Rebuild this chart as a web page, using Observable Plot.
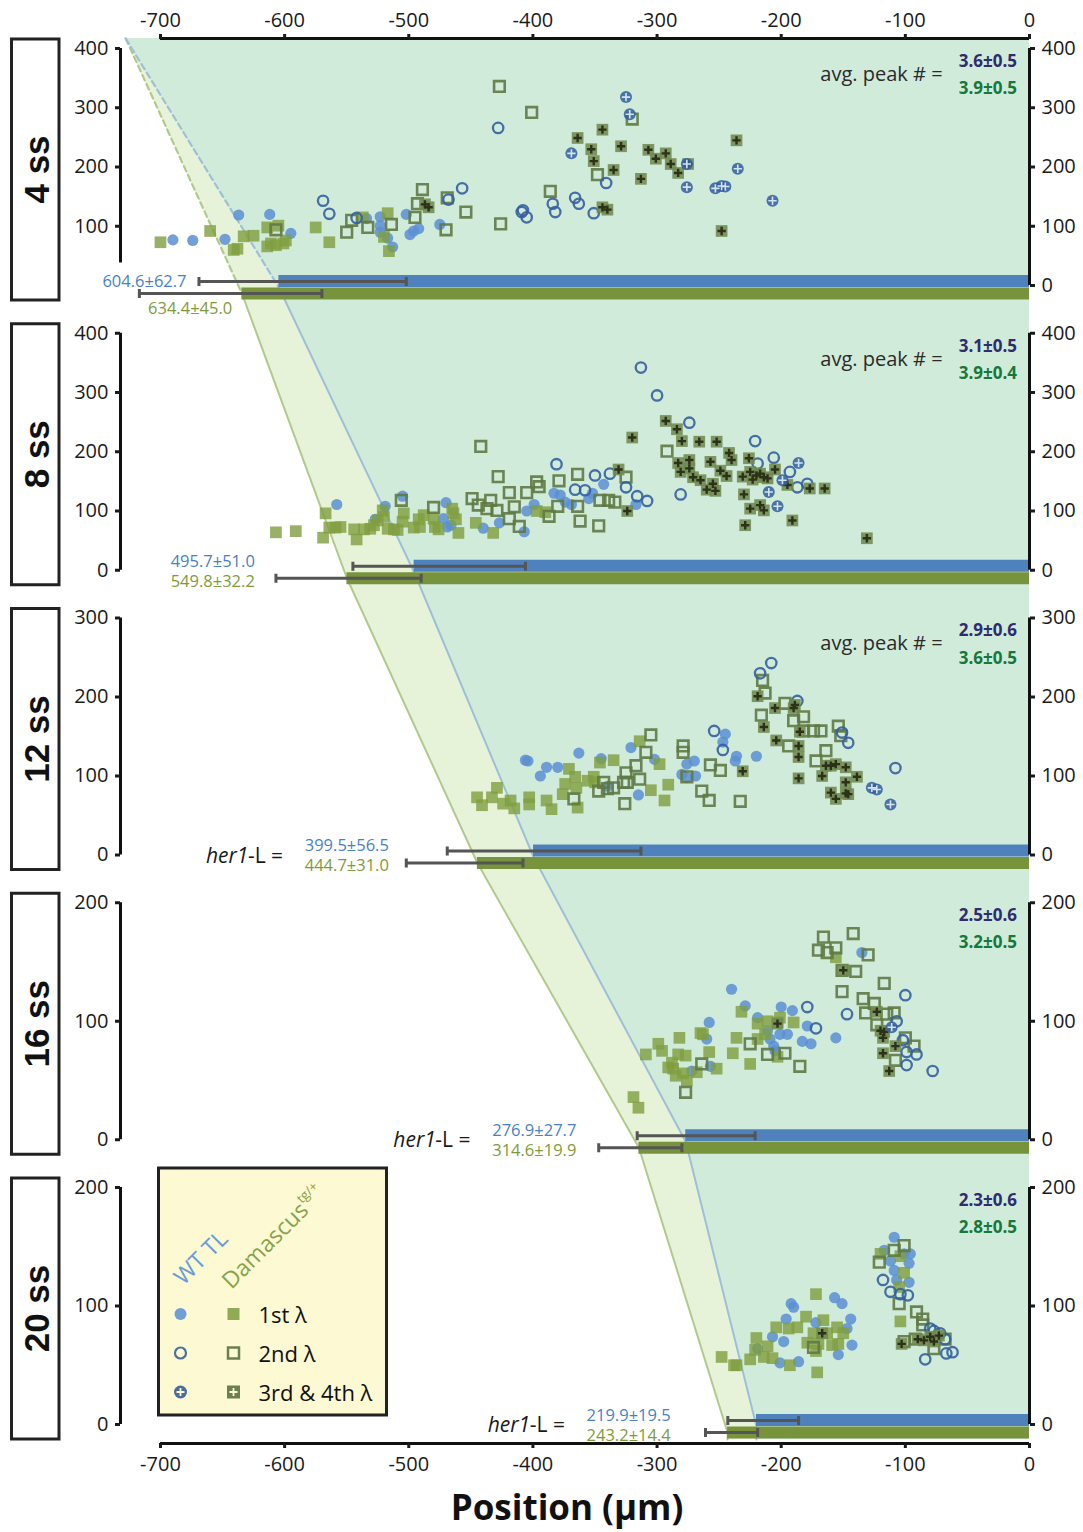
<!DOCTYPE html>
<html><head><meta charset="utf-8">
<script src="https://cdn.jsdelivr.net/npm/d3@7"></script>
<script src="https://cdn.jsdelivr.net/npm/@observablehq/plot@0.6"></script>
<style>
body{margin:0;background:#fff;}
#wrap{position:relative;width:1083px;height:1532px;font-family:"Open Sans",sans-serif;}
#wrap svg{overflow:visible;}
</style></head><body><div id="wrap"></div>
<script>
// ---------- DATA ----------
const panels = ["4 ss","8 ss","12 ss","16 ss","20 ss"];
const yMax = [400,400,300,200,200];
const yTicks = [[0,100,200,300,400],[0,100,200,300,400],[0,100,200,300],[0,100,200],[0,100,200]];
const xTicks = [-700,-600,-500,-400,-300,-200,-100,0];
const wtMean = [604.6,495.7,399.5,276.9,219.9];
const wtSD = [62.7,51.0,56.5,27.7,19.5];
const damMean = [634.4,549.8,444.7,314.6,243.2];
const damSD = [45.0,32.2,31.0,19.9,14.4];
const wtErrLo = [-669,-545,-469,-316,-243];
const wtErrHi = [-502,-406,-313,-221,-186];
const damErrLo = [-717,-607,-502,-347,-261];
const damErrHi = [-570,-490,-408,-280,-219];
const wtPeaks = ["3.6±0.5","3.1±0.5","2.9±0.6","2.5±0.6","2.3±0.6"];
const damPeaks = ["3.9±0.5","3.9±0.4","3.6±0.5","3.2±0.5","2.8±0.5"];
const legendRows = ["1st λ","2nd λ","3rd & 4th λ"];
const apexX = -728;

// peaks: [position µm, intensity]
const wt1st_4ss = [[-690,77],[-674,76],[-648,78],[-637,119],[-612,120],[-595,88],[-534,113],[-523,116],[-523,101],[-523,90],[-517,80],[-513,65],[-502,120],[-499,86],[-496,92],[-492,96],[-475,103]];
const wt2nd_4ss = [[-569,143],[-564,121],[-542,114],[-468,145],[-457,164],[-428,266],[-409,124],[-405,115],[-408,127],[-384,138],[-382,124],[-366,148],[-363,138],[-351,122],[-341,173]];
const wt3rd_4ss = [[-325,318],[-322,289],[-369,223],[-276,205],[-276,166],[-253,164],[-248,168],[-245,167],[-235,197],[-207,143]];
const dam1st_4ss = [[-700,73],[-660,92],[-633,83],[-625,84],[-638,62],[-641,60],[-614,98],[-605,101],[-611,71],[-614,66],[-607,68],[-601,71],[-599,76],[-575,98],[-564,73],[-537,115],[-517,122],[-520,82],[-516,58]];
const dam2nd_4ss = [[-607,94],[-550,90],[-546,110],[-533,98],[-514,103],[-489,162],[-493,138],[-495,115],[-469,148],[-470,94],[-454,124],[-427,336],[-401,292],[-320,281],[-386,159],[-348,187],[-426,104]];
const dam3rd_4ss = [[-484,132],[-487,137],[-364,249],[-344,263],[-353,230],[-351,210],[-329,235],[-335,195],[-313,180],[-307,229],[-301,214],[-293,223],[-289,205],[-283,190],[-275,205],[-236,245],[-248,92],[-344,132],[-340,128]];

const wt1st_8ss = [[-558,111],[-519,108],[-505,125],[-527,86],[-470,114],[-472,87],[-469,73],[-466,76],[-440,71],[-427,80],[-407,65],[-405,100],[-399,111],[-383,130],[-378,127],[-374,115],[-369,111],[-355,121],[-352,130],[-343,145],[-317,111]];
const wt2nd_8ss = [[-381,179],[-366,136],[-358,135],[-350,160],[-338,163],[-325,140],[-316,125],[-308,117],[-313,342],[-300,295],[-274,249],[-221,218],[-281,128],[-206,190],[-193,166],[-187,140],[-179,146],[-219,180]];
const wt3rd_8ss = [[-186,181],[-210,132],[-203,108],[-199,152]];
const dam1st_8ss = [[-607,64],[-591,66],[-569,55],[-567,96],[-564,72],[-559,72],[-555,73],[-544,69],[-542,52],[-536,69],[-531,70],[-528,76],[-525,84],[-521,101],[-520,90],[-517,70],[-512,69],[-509,68],[-504,96],[-505,82],[-496,72],[-491,73],[-492,86],[-488,93],[-480,87],[-479,73],[-476,69],[-465,104],[-464,96],[-462,86],[-460,63],[-446,80],[-432,63],[-397,100],[-390,98]];
const dam2nd_8ss = [[-442,209],[-506,118],[-480,106],[-428,158],[-449,121],[-444,110],[-437,104],[-434,118],[-429,101],[-419,131],[-415,107],[-419,87],[-411,74],[-405,131],[-397,149],[-395,141],[-387,91],[-380,108],[-379,151],[-364,162],[-364,108],[-362,83],[-347,75],[-346,118],[-339,118],[-334,115],[-325,157],[-292,201]];
const dam3rd_8ss = [[-320,224],[-331,170],[-324,100],[-293,252],[-284,238],[-280,218],[-266,217],[-252,217],[-283,181],[-274,186],[-274,172],[-281,166],[-271,157],[-265,152],[-260,136],[-253,134],[-255,146],[-257,183],[-242,198],[-240,186],[-249,168],[-244,159],[-226,189],[-231,158],[-230,128],[-225,166],[-220,160],[-217,163],[-214,157],[-223,153],[-211,155],[-205,170],[-225,104],[-217,110],[-214,101],[-229,76],[-195,144],[-177,138],[-165,138],[-191,84],[-131,54]];

const wt1st_12ss = [[-406,120],[-404,119],[-394,100],[-389,111],[-380,111],[-363,129],[-345,122],[-340,87],[-321,136],[-315,76],[-302,121],[-280,102],[-276,115],[-270,119],[-276,98],[-269,100],[-245,153],[-247,143],[-236,125],[-237,119],[-220,125]];
const wt2nd_12ss = [[-208,243],[-217,230],[-254,157],[-247,133],[-187,195],[-151,155],[-146,142],[-108,110]];
const wt3rd_12ss = [[-127,85],[-123,83],[-112,64]];
const dam1st_12ss = [[-445,73],[-441,63],[-433,73],[-429,85],[-424,65],[-418,69],[-415,59],[-403,73],[-403,64],[-389,69],[-385,58],[-376,77],[-374,90],[-371,109],[-366,99],[-365,85],[-364,60],[-356,94],[-351,99],[-350,92],[-346,117],[-335,120],[-314,144],[-305,82],[-298,115],[-294,69],[-291,89]];
const dam2nd_12ss = [[-305,152],[-309,130],[-317,113],[-314,96],[-325,104],[-324,92],[-343,92],[-347,81],[-335,85],[-327,92],[-340,84],[-367,71],[-326,65],[-279,138],[-279,130],[-276,99],[-264,81],[-258,69],[-257,114],[-249,107],[-233,68],[-215,221],[-213,205],[-216,177],[-197,192],[-190,170],[-182,175],[-182,157],[-168,157],[-174,157],[-194,138],[-164,132],[-172,119],[-154,163],[-152,151]];
const dam3rd_12ss = [[-219,201],[-205,186],[-190,186],[-189,190],[-214,162],[-185,156],[-204,145],[-186,138],[-186,124],[-164,113],[-160,113],[-156,115],[-148,111],[-167,100],[-139,99],[-186,97],[-231,106],[-148,92],[-148,78],[-160,79],[-156,71],[-146,77]];

const wt1st_16ss = [[-240,127],[-229,113],[-219,103],[-258,99],[-260,85],[-272,58],[-257,62],[-200,112],[-191,109],[-211,92],[-209,85],[-206,79],[-205,75],[-201,89],[-195,89],[-179,96],[-183,83],[-176,81],[-156,86],[-135,158]];
const wt2nd_16ss = [[-179,112],[-172,94],[-147,106],[-100,122],[-107,100],[-102,84],[-99,74],[-91,72],[-99,63],[-78,58]];
const wt3rd_16ss = [[-111,95]];
const dam1st_16ss = [[-319,36],[-315,27],[-309,72],[-299,81],[-296,75],[-291,61],[-288,65],[-285,54],[-283,72],[-282,86],[-277,71],[-287,60],[-279,56],[-276,50],[-268,57],[-265,90],[-263,89],[-258,74],[-252,60],[-239,73],[-236,86],[-232,108],[-225,64],[-219,98],[-211,100],[-203,99],[-201,103],[-219,85],[-213,89],[-203,70],[-190,99],[-156,154]];
const dam2nd_16ss = [[-277,40],[-264,64],[-225,81],[-211,72],[-197,73],[-185,62],[-166,171],[-170,160],[-163,158],[-156,162],[-142,174],[-130,156],[-140,142],[-151,143],[-151,125],[-117,132],[-134,119],[-125,115],[-132,107],[-109,107],[-123,97],[-115,106],[-93,79],[-100,86],[-108,67]];
const dam3rd_16ss = [[-150,143],[-203,98],[-123,108],[-117,91],[-118,86],[-120,92],[-108,79],[-118,73],[-113,58]];

const wt1st_20ss = [[-219,64],[-207,74],[-198,70],[-196,89],[-192,102],[-190,99],[-201,52],[-186,53],[-172,86],[-157,107],[-151,102],[-144,89],[-147,81],[-143,67],[-154,59],[-109,158],[-117,147],[-112,138],[-109,130],[-107,122],[-101,144],[-97,136],[-96,144],[-97,120]];
const wt2nd_20ss = [[-118,122],[-112,112],[-104,110],[-98,109],[-84,55],[-67,60],[-62,61],[-68,72],[-77,79],[-72,77],[-80,81]];
const wt3rd_20ss = [];
const dam1st_20ss = [[-248,57],[-238,50],[-236,50],[-225,55],[-221,63],[-220,73],[-214,57],[-211,66],[-207,56],[-204,82],[-193,50],[-194,81],[-187,82],[-180,91],[-179,69],[-172,110],[-171,44],[-174,77],[-170,68],[-166,88],[-163,77],[-159,67],[-155,82],[-154,68],[-150,77],[-172,62],[-104,87],[-120,144],[-104,142],[-101,128],[-105,116]];
const dam2nd_20ss = [[-121,137],[-109,147],[-101,151],[-105,102],[-91,95],[-86,89],[-86,84],[-101,70],[-92,72],[-77,64],[-68,72],[-174,65]];
const dam3rd_20ss = [[-103,68],[-90,72],[-85,71],[-80,74],[-77,70],[-73,75],[-167,77]];

// ---------- LAYOUT ----------
const S = 284.75/237;          // panel spacing in panel-height units
const PX = 1/237;              // one pixel in panel-height units
const gTop = 4*S + 1 + 10*PX;
const gBot = -19*PX;
const xMin = -732.2;
const leftAxisMin = [38,0,0,0,0];
const labelRight = [-679,-624,-516,-365,-289];
const g = (k, v) => (4-k)*S + v/yMax[k];
const gf = (k, f) => (4-k)*S + f;

const C = {
  wt1:"#5a8fd2", wt2:"#34609e", wt3:"#2f5e9e",
  dam1:"#7f9d3f", dam2:"#5f7944", dam3:"#6f8a50",
  barW:"#4f81bd", barD:"#77933c", teal:"#d1ebdb", light:"#e6f3d8",
  lineW:"#9fbfd8", lineD:"#b3c98c"
};

const sets = {
  wt1:[wt1st_4ss,wt1st_8ss,wt1st_12ss,wt1st_16ss,wt1st_20ss],
  wt2:[wt2nd_4ss,wt2nd_8ss,wt2nd_12ss,wt2nd_16ss,wt2nd_20ss],
  wt3:[wt3rd_4ss,wt3rd_8ss,wt3rd_12ss,wt3rd_16ss,wt3rd_20ss],
  dam1:[dam1st_4ss,dam1st_8ss,dam1st_12ss,dam1st_16ss,dam1st_20ss],
  dam2:[dam2nd_4ss,dam2nd_8ss,dam2nd_12ss,dam2nd_16ss,dam2nd_20ss],
  dam3:[dam3rd_4ss,dam3rd_8ss,dam3rd_12ss,dam3rd_16ss,dam3rd_20ss]
};
const pts = {};
for (const key in sets) pts[key] = sets[key].flatMap((arr,k)=>arr.map(([x,v])=>({x, gy:g(k,v)})));

const idx = [0,1,2,3,4];
const wtEdge = [{x:apexX, gy:gTop}, ...idx.map(k=>({x:-wtMean[k], gy:g(k,0)-2*PX})), {x:-wtMean[4], gy:g(4,0)-15*PX}];
const damEdge = [{x:apexX, gy:gTop}, ...idx.map(k=>({x:-damMean[k], gy:g(k,0)-8*PX})), {x:-damMean[4], gy:g(4,0)-15*PX}];

const bars = idx.map(k=>({k, g0:g(k,0), wt:-wtMean[k], dam:-damMean[k],
  wlo:wtErrLo[k], whi:wtErrHi[k], dlo:damErrLo[k], dhi:damErrHi[k]}));

const leftTicks = [], rightTicks = [];
idx.forEach(k=>yTicks[k].forEach(v=>{
  const d = {g:g(k,v), label:String(v)};
  rightTicks.push(d);
  if (v >= leftAxisMin[k]) leftTicks.push(d);
}));
const fmtTick = list => d => { const t = list.find(e=>Math.abs(e.g-d)<1e-9); return t ? t.label : ""; };

const vline = {draw(ctx,size){const h=Math.sqrt(size)/2; ctx.moveTo(0,-h); ctx.lineTo(0,h);}};

const fmtL = (m,s) => `${m.toFixed(1)}±${s.toFixed(1)}`;
const numW = [1,2,3,4].map(k=>({x:labelRight[k], gy:g(k,0), t:fmtL(wtMean[k],wtSD[k])}));
const numD = [1,2,3,4].map(k=>({x:labelRight[k], gy:g(k,0), t:fmtL(damMean[k],damSD[k])}));
const numW0 = [{x:labelRight[0], gy:g(0,0), t:fmtL(wtMean[0],wtSD[0])}];
const numD0 = [{x:-710, gy:g(0,0), t:fmtL(damMean[0],damSD[0])}];
const herLabels = [2,3,4].map(k=>({x:labelRight[k], gy:g(k,0)}));
const avgLabels = [0,1,2].map(k=>({x:-70, gy:gf(k,0.89)}));
const peakW = idx.map(k=>({x:-10, gy:gf(k,0.945), t:wtPeaks[k]}));
const peakD = idx.map(k=>({x:-10, gy:gf(k,0.83), t:damPeaks[k]}));

const chart = Plot.plot({
  width:1083, height:1532,
  marginLeft:120, marginRight:54, marginTop:38, marginBottom:89,
  x:{domain:[xMin,0]},
  y:{domain:[gBot,gTop]},
  style:{fontFamily:"'Open Sans', sans-serif", fontSize:"20px", color:"#1a1a1a", background:"transparent"},
  marks:[
    Plot.areaX(damEdge,{y:"gy", x1:"x", x2:0, fill:C.light}),
    Plot.areaX(wtEdge,{y:"gy", x1:"x", x2:0, fill:C.teal}),
    Plot.line(damEdge.slice(0,2),{x:"x", y:"gy", stroke:C.lineD, strokeWidth:2.2, strokeDasharray:"6,4"}),
    Plot.line(wtEdge.slice(0,2),{x:"x", y:"gy", stroke:C.lineW, strokeWidth:2.2, strokeDasharray:"6,4"}),
    Plot.line(damEdge.slice(1),{x:"x", y:"gy", stroke:C.lineD, strokeWidth:2}),
    Plot.line(wtEdge.slice(1),{x:"x", y:"gy", stroke:C.lineW, strokeWidth:2}),
    // her1 expression bars
    Plot.ruleY(bars,{y:"g0", x1:"wt", x2:0, stroke:C.barW, strokeWidth:12, dy:-4.5}),
    Plot.ruleY(bars,{y:"g0", x1:"dam", x2:0, stroke:C.barD, strokeWidth:12, dy:8}),
    Plot.ruleY(bars,{y:"g0", x1:"wlo", x2:"whi", stroke:"#555", strokeWidth:3, dy:-4}),
    Plot.ruleY(bars,{y:"g0", x1:"dlo", x2:"dhi", stroke:"#555", strokeWidth:3, dy:8}),
    Plot.dot(bars,{x:"wlo", y:"g0", dy:-4, symbol:vline, r:5.1, stroke:"#555", strokeWidth:3, fill:"none"}),
    Plot.dot(bars,{x:"whi", y:"g0", dy:-4, symbol:vline, r:5.1, stroke:"#555", strokeWidth:3, fill:"none"}),
    Plot.dot(bars,{x:"dlo", y:"g0", dy:8, symbol:vline, r:5.1, stroke:"#555", strokeWidth:3, fill:"none"}),
    Plot.dot(bars,{x:"dhi", y:"g0", dy:8, symbol:vline, r:5.1, stroke:"#555", strokeWidth:3, fill:"none"}),
    // peaks
    Plot.dot(pts.wt1,{x:"x", y:"gy", r:5.6, fill:C.wt1, fillOpacity:0.85, stroke:"none"}),
    Plot.dot(pts.dam1,{x:"x", y:"gy", symbol:"square", r:6.6, fill:C.dam1, fillOpacity:0.8, stroke:"none"}),
    Plot.dot(pts.dam2,{x:"x", y:"gy", symbol:"square", r:6.0, fill:"none", stroke:C.dam2, strokeWidth:2.6, strokeOpacity:0.9}),
    Plot.dot(pts.wt2,{x:"x", y:"gy", r:5.2, fill:"none", stroke:C.wt2, strokeWidth:2.3, strokeOpacity:0.9}),
    Plot.dot(pts.dam3,{x:"x", y:"gy", symbol:"square", r:6.6, fill:C.dam3, fillOpacity:0.88, stroke:"none"}),
    Plot.dot(pts.dam3,{x:"x", y:"gy", symbol:"plus", r:2.8, stroke:"#2c3118", strokeWidth:2.4}),
    Plot.dot(pts.wt3,{x:"x", y:"gy", r:6, fill:C.wt3, fillOpacity:0.85, stroke:"none"}),
    Plot.dot(pts.wt3,{x:"x", y:"gy", symbol:"plus", r:2.8, stroke:"#d8e3ef", strokeWidth:1.6}),
    // axes
    Plot.ruleY([gTop],{x1:-700, x2:0, strokeWidth:3, stroke:"#111"}),
    Plot.ruleY([gBot],{x1:-700, x2:0, strokeWidth:3, stroke:"#111"}),
    Plot.axisX({anchor:"top", ticks:xTicks, tickFormat:d=>String(d), tickSize:5, tickPadding:7, strokeWidth:3, fontSize:20}),
    Plot.axisX({anchor:"bottom", ticks:xTicks, tickFormat:d=>String(d), tickSize:5, tickPadding:8, strokeWidth:3, fontSize:20}),
    Plot.ruleX(idx,{x:xMin, y1:k=>g(k,leftAxisMin[k]), y2:k=>g(k,yMax[k]), strokeWidth:3, stroke:"#111"}),
    Plot.ruleX(idx,{x:0, y1:k=>g(k,0), y2:k=>g(k,yMax[k]), strokeWidth:3, stroke:"#111"}),
    Plot.axisY({anchor:"left", ticks:leftTicks.map(d=>d.g), tickFormat:fmtTick(leftTicks), tickSize:5, tickPadding:7, strokeWidth:3, fontSize:20}),
    Plot.axisY({anchor:"right", ticks:rightTicks.map(d=>d.g), tickFormat:fmtTick(rightTicks), tickSize:5, tickPadding:7, strokeWidth:3, fontSize:20}),
    // annotations
    Plot.text(numW,{x:"x", y:"gy", text:"t", fill:"#4a7fc3", textAnchor:"end", dy:-9, fontSize:16.5}),
    Plot.text(numD,{x:"x", y:"gy", text:"t", fill:"#7f9a3a", textAnchor:"end", dy:11, fontSize:16.5}),
    Plot.text(numW0,{x:"x", y:"gy", text:"t", fill:"#4a7fc3", textAnchor:"end", dy:-4, fontSize:16.5}),
    Plot.text(numD0,{x:"x", y:"gy", text:"t", fill:"#7f9a3a", textAnchor:"start", dy:23, fontSize:16.5}),
    Plot.text(herLabels,{x:"x", y:"gy", text:()=>"her1", textAnchor:"start", dx:-183, dy:1, fontSize:21, fontStyle:"italic", fill:"#1a1a1a"}),
    Plot.text(herLabels,{x:"x", y:"gy", text:()=>"-L =", textAnchor:"start", dx:-141, dy:1, fontSize:21, fill:"#1a1a1a"}),
    Plot.text(avgLabels,{x:"x", y:"gy", text:()=>"avg. peak # =", textAnchor:"end", fontSize:20, fill:"#2a2a2a"}),
    Plot.text(peakW,{x:"x", y:"gy", text:"t", fill:"#2e2c6e", textAnchor:"end", fontSize:17, fontWeight:"bold"}),
    Plot.text(peakD,{x:"x", y:"gy", text:"t", fill:"#16783a", textAnchor:"end", fontSize:17, fontWeight:"bold"}),
    Plot.text(["Position (µm)"],{frameAnchor:"bottom", dy:76, dx:-8, fontSize:35, fontWeight:"bold", fill:"#111"})
  ]
});
const wrap = document.getElementById("wrap");
wrap.append(chart);

// ---------- panel labels and legend (overlay, placed from the plot's y scale) ----------
const ys = chart.scale("y");
const ov = d3.select(wrap).append("svg")
  .attr("width",1083).attr("height",1532)
  .style("position","absolute").style("left","0px").style("top","0px")
  .attr("font-family","'Open Sans', sans-serif");
idx.forEach(k=>{
  const z = ys.apply(g(k,0));
  ov.append("rect").attr("x",11.5).attr("y",z-246).attr("width",47.5).attr("height",261)
    .attr("fill","#fff").attr("stroke","#222").attr("stroke-width",3);
  ov.append("text").attr("transform",`translate(36,${z-115.5}) rotate(-90)`)
    .attr("text-anchor","middle").attr("dominant-baseline","central")
    .attr("font-family","'Liberation Sans', Arial, sans-serif").attr("font-weight","bold")
    .attr("font-size",35).attr("fill","#111").text(panels[k]);
});
const z5 = ys.apply(g(4,0));
const top5 = ys.apply(g(4,200));
const lx = 158.5, ly = top5 - 19, lw = 228, lh = z5 - ly - 9;
const lg = ov.append("g");
lg.append("rect").attr("x",lx).attr("y",ly).attr("width",lw).attr("height",lh)
  .attr("fill","#fdf9d3").attr("stroke","#222").attr("stroke-width",3);
lg.append("text").attr("transform",`translate(${lx+25},${ly+118}) rotate(-45)`)
  .attr("fill","#6a9bd8").attr("font-size",23).text("WT TL");
const dt = lg.append("text").attr("transform",`translate(${lx+73},${ly+122}) rotate(-45)`)
  .attr("fill","#86a24a").attr("font-size",23);
dt.append("tspan").text("Damascus");
dt.append("tspan").attr("font-size",13).attr("dy",-11).text("tg/+");
legendRows.forEach((label,i)=>{
  const ry = ly + 146 + i*39;
  const cx = lx + 22, sx = lx + 75;
  if (i===0) {
    lg.append("circle").attr("cx",cx).attr("cy",ry).attr("r",6).attr("fill","#6f9fd6");
    lg.append("rect").attr("x",sx-6).attr("y",ry-6).attr("width",12).attr("height",12).attr("fill","#8fac55");
  } else if (i===1) {
    lg.append("circle").attr("cx",cx).attr("cy",ry).attr("r",5.5).attr("fill","none").attr("stroke","#4d709c").attr("stroke-width",2.2);
    lg.append("rect").attr("x",sx-5.5).attr("y",ry-5.5).attr("width",11).attr("height",11).attr("fill","none").attr("stroke","#6b8050").attr("stroke-width",2.5);
  } else {
    lg.append("circle").attr("cx",cx).attr("cy",ry).attr("r",6.5).attr("fill","#4a6d9a");
    lg.append("path").attr("d",`M${cx-4},${ry}H${cx+4}M${cx},${ry-4}V${ry+4}`).attr("stroke","#fdf9d3").attr("stroke-width",1.8);
    lg.append("rect").attr("x",sx-6.5).attr("y",ry-6.5).attr("width",13).attr("height",13).attr("fill","#6b8050");
    lg.append("path").attr("d",`M${sx-4},${ry}H${sx+4}M${sx},${ry-4}V${ry+4}`).attr("stroke","#fdf9d3").attr("stroke-width",1.8);
  }
  lg.append("text").attr("x",lx+100).attr("y",ry).attr("dominant-baseline","central")
    .attr("font-size",22).attr("fill","#111").text(label);
});
</script></body></html>
